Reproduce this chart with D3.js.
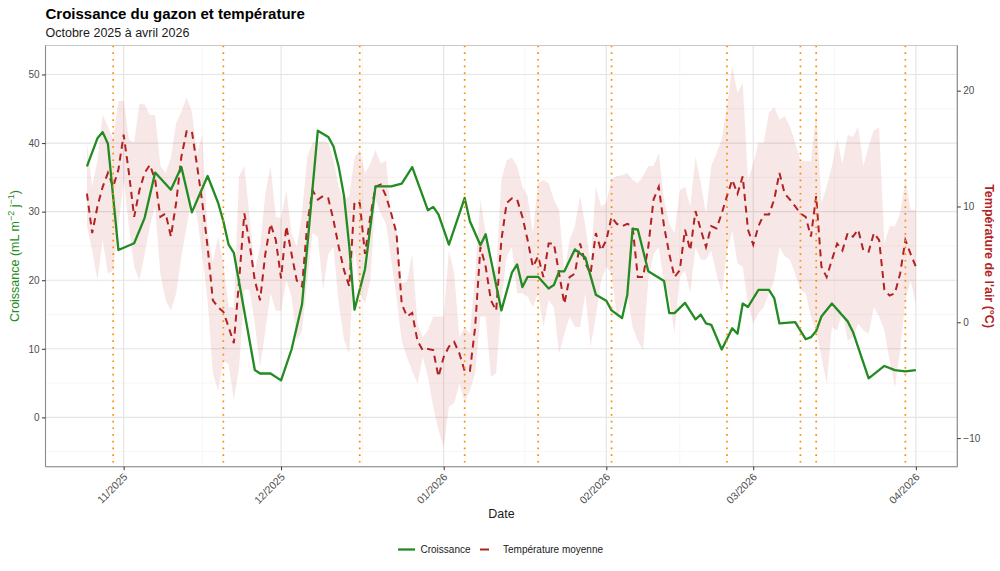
<!DOCTYPE html>
<html><head><meta charset="utf-8">
<script src="https://cdn.jsdelivr.net/npm/d3@7"></script>
<style>
body{margin:0;background:#fff;}
svg{display:block;font-family:"Liberation Sans",Arial,sans-serif;}
</style>
</head><body><svg id="chart" width="1000" height="571"></svg>
<script>
// ---------- DATA ----------
const growthDates = ["2025-10-25","2025-10-27","2025-10-28","2025-10-29","2025-10-31","2025-11-03","2025-11-05","2025-11-07","2025-11-10","2025-11-12","2025-11-14","2025-11-17","2025-11-19","2025-11-20","2025-11-21","2025-11-22","2025-11-26","2025-11-27","2025-11-29","2025-12-01","2025-12-03","2025-12-05","2025-12-08","2025-12-10","2025-12-11","2025-12-12","2025-12-13","2025-12-14","2025-12-15","2025-12-17","2025-12-19","2025-12-22","2025-12-24","2025-12-26","2025-12-29","2025-12-30","2025-12-31","2026-01-02","2026-01-05","2026-01-06","2026-01-08","2026-01-09","2026-01-12","2026-01-14","2026-01-15","2026-01-16","2026-01-17","2026-01-19","2026-01-21","2026-01-22","2026-01-23","2026-01-24","2026-01-26","2026-01-28","2026-01-30","2026-02-01","2026-02-02","2026-02-04","2026-02-05","2026-02-06","2026-02-07","2026-02-09","2026-02-12","2026-02-13","2026-02-14","2026-02-16","2026-02-18","2026-02-19","2026-02-20","2026-02-21","2026-02-23","2026-02-25","2026-02-26","2026-02-27","2026-02-28","2026-03-02","2026-03-04","2026-03-05","2026-03-06","2026-03-09","2026-03-11","2026-03-12","2026-03-13","2026-03-14","2026-03-16","2026-03-19","2026-03-20","2026-03-23","2026-03-26","2026-03-28","2026-03-30","2026-04-01"];
const growthValues = [36.6,40.7,41.6,39.9,24.4,25.4,29.1,35.7,33.2,36.5,29.9,35.2,31.3,28.6,25.2,24.0,6.9,6.4,6.4,5.4,9.9,16.5,41.8,40.9,39.5,36.5,32.3,25.0,15.7,21.6,33.7,33.7,34.1,36.5,30.2,30.7,29.6,25.2,32.0,28.6,25.1,26.7,15.6,21.1,22.3,19.0,20.5,20.5,18.8,19.3,21.3,21.3,24.5,23.3,17.9,17.0,15.6,14.5,17.9,27.5,27.4,21.3,19.9,15.2,15.2,16.7,14.3,15.0,13.7,13.5,9.9,13.0,12.2,16.6,16.1,18.6,18.6,17.4,13.7,13.9,11.4,11.7,12.6,14.7,16.6,14.0,12.5,5.7,7.5,6.9,6.7,6.9];

// daily temperatures, first day = tempStart
const tempStart = "2025-10-25";
const tempMean = [11.1,7.7,10.0,11.7,12.9,11.7,13.2,16.2,12.9,9.1,11.4,12.9,13.6,12.3,9.1,9.4,7.4,10.3,14.3,16.5,16.5,13.5,10.3,6.5,1.9,1.3,0.9,-0.4,-1.8,3.6,9.4,6.8,3.6,1.9,5.9,8.5,7.1,3.8,8.3,5.9,3.6,3.1,8.5,11.4,10.6,10.9,10.7,8.8,6.5,4.5,3.1,10.4,10.3,5.9,9.1,11.7,11.9,10.9,9.4,7.7,1.6,0.5,0.8,-1.6,-2.4,-2.3,-2.4,-4.7,-3.0,-2.1,-1.7,-2.7,-4.2,-4.2,-0.4,6.5,4.8,1.9,1.0,7.1,10.3,10.7,10.6,9.1,7.1,4.8,5.7,3.9,6.8,6.8,4.2,1.6,3.9,4.2,6.8,5.1,4.2,7.7,6.2,7.1,9.1,8.5,8.3,8.5,8.3,3.9,3.9,6.5,10.6,11.7,8.3,5.9,3.9,4.5,8.0,6.2,9.6,8.0,6.5,8.3,8.1,9.4,10.9,12.3,11.1,12.6,8.0,6.7,8.3,9.3,9.3,10.6,12.9,11.1,10.6,10.0,9.4,9.1,7.4,10.9,4.8,3.9,5.4,6.8,6.2,7.7,7.4,8.0,6.2,6.1,7.7,7.1,2.8,2.3,2.5,4.2,7.1,5.9,4.8];
const tempMax = [15.5,11.7,14.0,17.9,16.9,15.8,19.1,19.1,15.8,15.5,18.9,18.8,17.9,17.9,13.5,12.9,14.2,17.2,18.2,19.4,18.2,14.6,16.2,7.8,5.2,7.4,5.1,1.3,1.3,12.6,13.5,9.1,4.5,6.5,11.1,13.5,9.1,9.0,11.4,7.7,6.5,9.4,14.3,15.5,15.6,15.6,15.5,14.0,11.7,10.6,10.9,14.2,14.9,12.9,13.7,14.9,13.7,14.0,9.1,8.0,3.4,3.5,5.9,-0.1,-1.3,-0.7,0.5,0.5,0.5,6.2,4.2,-1.3,-0.4,-1.0,4.2,10.6,7.7,4.5,4.5,12.3,14.0,14.2,13.5,11.7,10.9,7.7,12.0,12.3,12.0,10.6,9.7,4.2,7.1,8.3,10.9,8.3,5.1,11.7,10.0,10.3,12.4,12.6,12.7,12.9,12.3,12.0,12.6,13.5,13.5,14.6,10.6,8.5,7.7,11.4,11.7,10.0,14.3,12.0,9.4,13.5,14.6,15.8,18.6,22.1,19.8,20.7,12.3,13.7,15.5,15.5,18.1,18.6,17.5,17.8,16.9,15.5,14.0,13.9,13.9,18.1,10.3,11.7,13.5,15.8,13.7,16.2,16.0,16.9,13.5,15.2,16.6,16.8,6.8,8.3,8.3,9.4,12.3,9.7,9.7];
const tempMin = [8.3,6.2,3.6,7.1,4.2,4.5,8.3,12.3,8.3,4.8,3.6,5.9,8.3,10.0,4.2,1.9,1.0,2.5,5.7,8.3,10.9,9.1,5.7,1.9,-4.4,-5.9,-3.3,-3.6,-6.7,-3.9,2.8,2.8,-0.1,-3.9,-0.7,2.5,1.0,1.0,3.6,2.2,-1.6,-0.7,3.6,7.7,7.4,2.8,5.9,6.5,1.6,-1.5,-2.7,6.5,2.5,1.6,3.6,10.6,9.4,8.5,5.4,2.2,-1.6,-3.0,-4.2,-5.3,-3.0,-4.7,-7.3,-9.3,-10.8,-7.3,-7.0,-5.3,-6.9,-5.9,-4.4,0.5,0.5,-4.7,-4.4,1.9,5.7,6.5,2.5,2.5,2.2,1.3,2.5,-0.4,1.9,1.3,-2.7,-1.0,0.5,-0.4,-0.4,2.5,-2.1,0.5,3.6,4.8,4.2,0.5,1.3,2.5,-0.4,-1.6,-2.4,3.6,5.9,6.5,3.4,2.2,-1.0,3.9,4.5,2.5,6.5,5.4,5.4,6.2,4.2,2.5,6.2,7.9,5.1,4.8,1.6,-0.1,0.8,1.3,2.5,3.6,6.5,5.7,5.4,4.2,2.8,2.5,0.5,-0.7,-3.0,-5.3,-0.4,-0.7,1.0,-1.6,-1.3,-0.1,-0.7,-1.0,1.3,0.5,-0.7,-3.3,-5.6,-2.4,1.9,3.6,1.6];

const eventDates = ["2025-10-30","2025-11-20","2025-12-16","2026-01-05","2026-01-19","2026-02-02","2026-02-24","2026-03-10","2026-03-13","2026-03-30"];
const monthTicks = ["2025-11-01","2025-12-01","2026-01-01","2026-02-01","2026-03-01","2026-04-01"];
const monthTickLabels = ["11/2025","12/2025","01/2026","02/2026","03/2026","04/2026"];
const leftTicks = [0,10,20,30,40,50];
const rightTicks = [-10,0,10,20];

// ---------- SETUP ----------
const parse = d3.utcParse("%Y-%m-%d");
const svg = d3.select("#chart");
const P = {l:45.5, r:957.3, t:45.5, b:466.7};

const growth = growthDates.map((d,i)=>({date:parse(d), v:growthValues[i]}));
const t0 = parse(tempStart);
const temps = tempMean.map((m,i)=>({date:d3.utcDay.offset(t0,i), mean:m, lo:tempMin[i], hi:tempMax[i]}));

const dMin = d3.min(temps,d=>d.date), dMax = d3.max(temps,d=>d.date);
const span = dMax - dMin;
const x = d3.scaleUtc().domain([new Date(+dMin - span*0.05), new Date(+dMax + span*0.05)]).range([P.l, P.r]);
const yL = d3.scaleLinear().domain([-7.19, 54.23]).range([P.b, P.t]);
const yT = d3.scaleLinear().domain([-12.47, 23.9]).range([P.b, P.t]);

const green = "#228B22", red = "#B22222", orange = "#FF8C00";

// ---------- GRID ----------
const grid = svg.append("g");
const minorY = d3.range(-5, 55, 10);
grid.selectAll(".mny").data(minorY).join("line")
  .attr("x1",P.l).attr("x2",P.r).attr("y1",d=>yL(d)).attr("y2",d=>yL(d))
  .attr("stroke","#f0f0f0").attr("stroke-width",0.6);
const mt = monthTicks.map(parse);
const minorX = [];
for (let i=0;i<mt.length-1;i++) minorX.push(new Date((+mt[i]+ +mt[i+1])/2));
grid.selectAll(".mnx").data(minorX).join("line")
  .attr("x1",d=>x(d)).attr("x2",d=>x(d)).attr("y1",P.t).attr("y2",P.b)
  .attr("stroke","#f0f0f0").attr("stroke-width",0.6);
grid.selectAll(".mjy").data(leftTicks).join("line")
  .attr("x1",P.l).attr("x2",P.r).attr("y1",d=>yL(d)).attr("y2",d=>yL(d))
  .attr("stroke","#e4e4e4").attr("stroke-width",1.1);
grid.selectAll(".mjx").data(mt).join("line")
  .attr("x1",d=>x(d)).attr("x2",d=>x(d)).attr("y1",P.t).attr("y2",P.b)
  .attr("stroke","#e4e4e4").attr("stroke-width",1.1);

// ---------- RIBBON ----------
svg.append("path").datum(temps)
  .attr("d", d3.area().x(d=>x(d.date)).y0(d=>yT(d.lo)).y1(d=>yT(d.hi)))
  .attr("fill", red).attr("fill-opacity",0.11);

// ---------- LINES ----------
svg.append("path").datum(temps)
  .attr("d", d3.line().x(d=>x(d.date)).y(d=>yT(d.mean)))
  .attr("fill","none").attr("stroke",red).attr("stroke-width",2)
  .attr("stroke-dasharray","7,5");
svg.append("path").datum(growth)
  .attr("d", d3.line().x(d=>x(d.date)).y(d=>yL(d.v)))
  .attr("fill","none").attr("stroke",green).attr("stroke-width",2.3)
  .attr("stroke-linejoin","round");

// ---------- EVENT LINES ----------
svg.selectAll(".ev").data(eventDates.map(parse)).join("line")
  .attr("x1",d=>x(d)).attr("x2",d=>x(d)).attr("y1",P.t).attr("y2",P.b)
  .attr("stroke",orange).attr("stroke-width",1.7).attr("stroke-dasharray","1.7,5");

// ---------- BORDER / AXES ----------
svg.append("rect").attr("x",P.l).attr("y",P.t).attr("width",P.r-P.l).attr("height",P.b-P.t)
  .attr("fill","none").attr("stroke","#c8c8c8").attr("stroke-width",1);
svg.append("line").attr("x1",P.l).attr("x2",P.l).attr("y1",P.t).attr("y2",P.b).attr("stroke","#8c8c8c").attr("stroke-width",1.1);
svg.append("line").attr("x1",P.r).attr("x2",P.r).attr("y1",P.t).attr("y2",P.b).attr("stroke","#8c8c8c").attr("stroke-width",1.1);
svg.append("line").attr("x1",P.l).attr("x2",P.r).attr("y1",P.b).attr("y2",P.b).attr("stroke","#8c8c8c").attr("stroke-width",1.1);

const tickCol = "#4d4d4d";
const leftAxis = svg.append("g").attr("transform",`translate(${P.l},0)`)
  .call(d3.axisLeft(yL).tickValues(leftTicks).tickSize(3.5).tickPadding(2.5));
const rightAxis = svg.append("g").attr("transform",`translate(${P.r},0)`)
  .call(d3.axisRight(yT).tickValues(rightTicks).tickSize(3.5).tickPadding(2.5));
const bottomAxis = svg.append("g").attr("transform",`translate(0,${P.b})`)
  .call(d3.axisBottom(x).tickValues(mt).tickSize(3.5).tickFormat((d,i)=>monthTickLabels[i]));
[leftAxis,rightAxis,bottomAxis].forEach(g=>{
  g.select(".domain").remove();
  g.selectAll(".tick line").attr("stroke","#333").attr("stroke-width",1);
  g.selectAll(".tick text").attr("fill",tickCol).attr("font-size","10px").attr("font-family","Liberation Sans, Arial, sans-serif");
});
bottomAxis.selectAll(".tick text")
  .attr("text-anchor","end").attr("dy",null).attr("y",null)
  .attr("font-size","10.5px")
  .attr("transform","translate(4,11) rotate(-45)");

// ---------- TITLES ----------
svg.append("text").attr("x",45.5).attr("y",18.5).attr("font-size","15px").attr("font-weight","bold")
  .attr("fill","#000").text("Croissance du gazon et température");
svg.append("text").attr("x",45.5).attr("y",36.5).attr("font-size","12.5px")
  .attr("fill","#1a1a1a").text("Octobre 2025 à avril 2026");

svg.append("text").attr("x",(P.l+P.r)/2).attr("y",518).attr("text-anchor","middle")
  .attr("font-size","12.5px").attr("fill","#1a1a1a").text("Date");

const cy = (P.t+P.b)/2;
const lt = svg.append("text").attr("transform",`translate(19,${cy}) rotate(-90)`)
  .attr("text-anchor","middle").attr("font-size","12.5px").attr("fill",green);
lt.append("tspan").text("Croissance (mL m");
lt.append("tspan").attr("dy","-5").attr("font-size","9px").text("−2");
lt.append("tspan").attr("dy","5").text(" j");
lt.append("tspan").attr("dy","-5").attr("font-size","9px").text("−1");
lt.append("tspan").attr("dy","5").text(")");

svg.append("text").attr("transform",`translate(985,${cy}) rotate(90)`)
  .attr("text-anchor","middle").attr("font-size","12.5px").attr("font-weight","bold")
  .attr("fill",red).text("Température de l'air (°C)");

// ---------- LEGEND ----------
const lg = svg.append("g");
lg.append("line").attr("x1",398).attr("x2",415).attr("y1",549.5).attr("y2",549.5)
  .attr("stroke",green).attr("stroke-width",2.3);
lg.append("text").attr("x",420.5).attr("y",553).attr("font-size","10px").attr("fill","#1a1a1a").text("Croissance");
lg.append("line").attr("x1",480).attr("x2",497).attr("y1",549.5).attr("y2",549.5)
  .attr("stroke",red).attr("stroke-width",2).attr("stroke-dasharray","9,8");
lg.append("text").attr("x",503).attr("y",553).attr("font-size","10px").attr("fill","#1a1a1a").text("Température moyenne");
</script>
</body></html>
